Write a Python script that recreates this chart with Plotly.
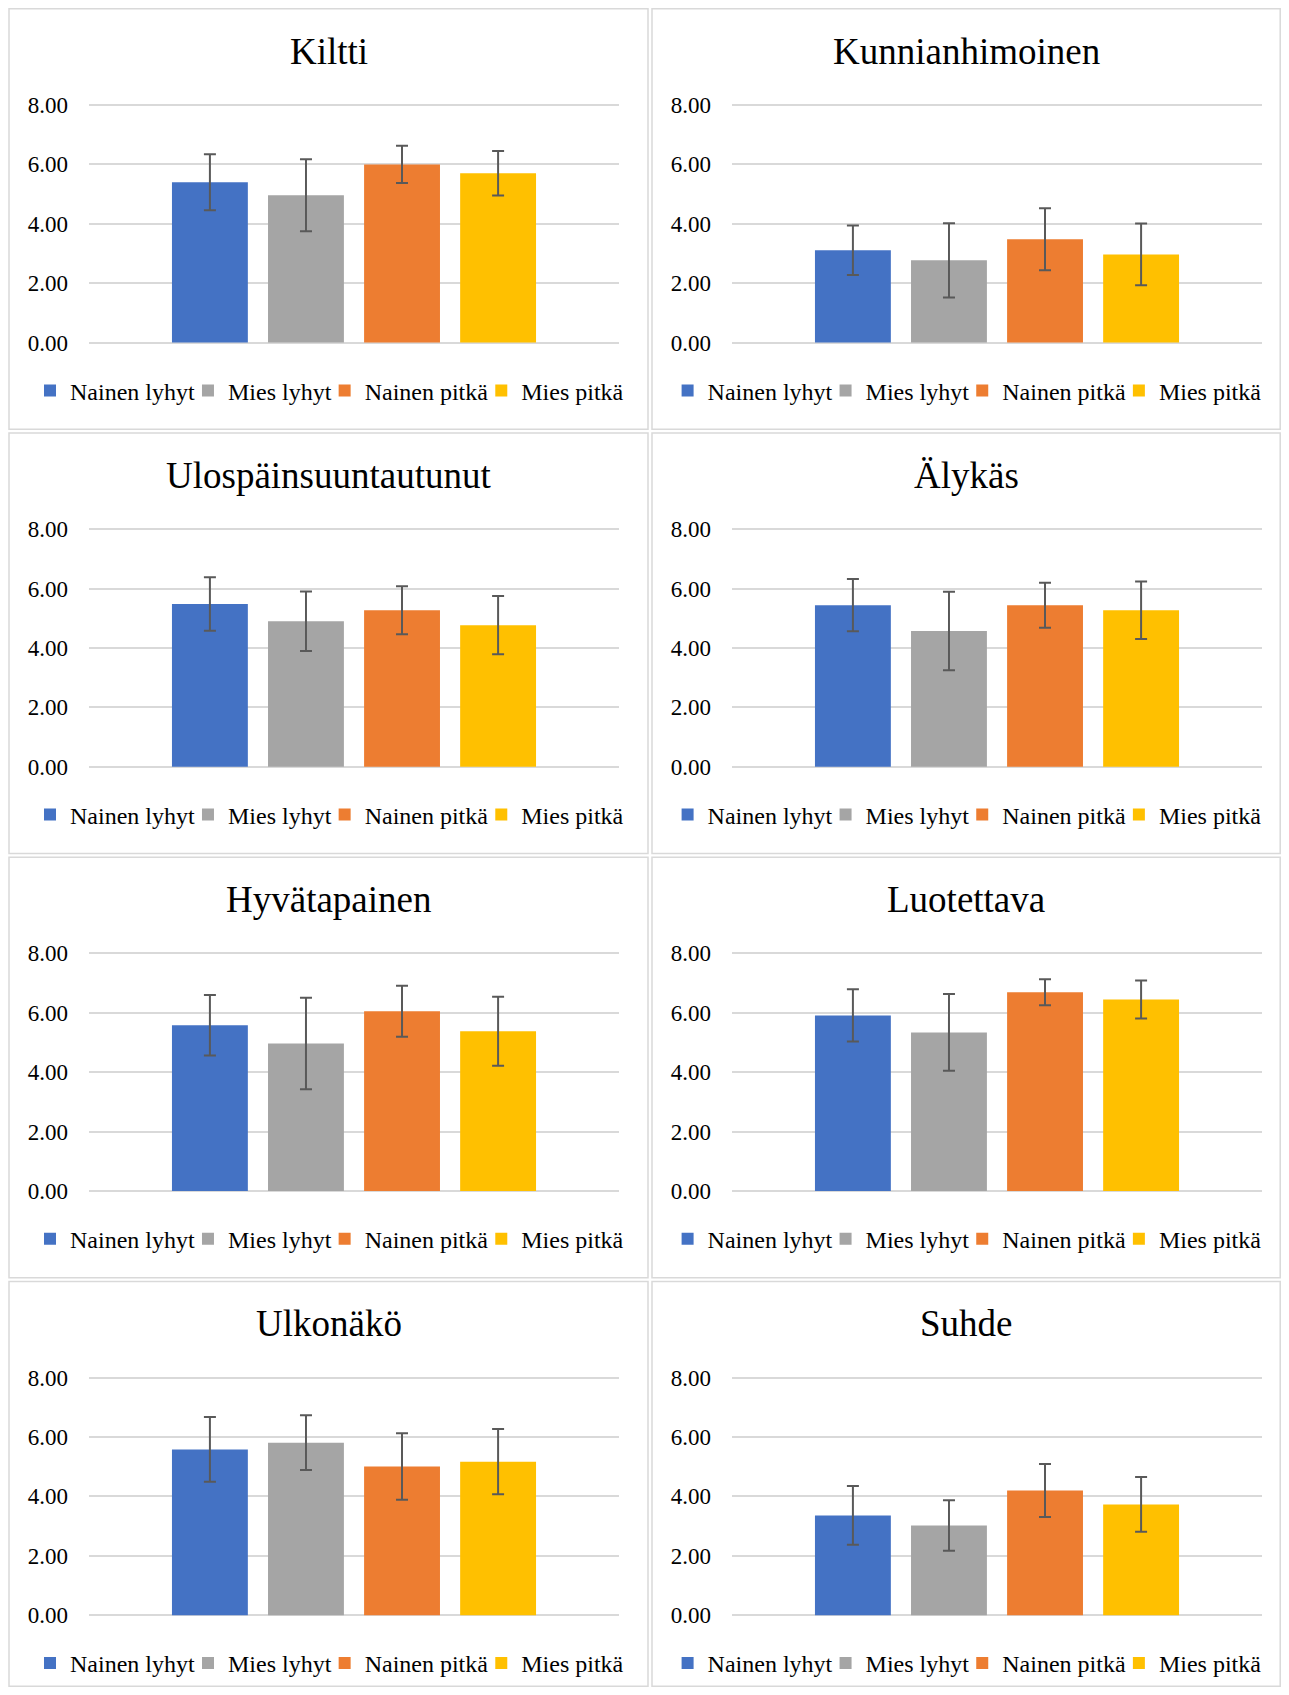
import plotly.graph_objects as go

# ---------------- data ----------------
traits = ["Kiltti", "Kunnianhimoinen", "Ulospäinsuuntautunut", "Älykäs",
          "Hyvätapainen", "Luotettava", "Ulkonäkö", "Suhde"]
series_names = ["Nainen lyhyt", "Mies lyhyt", "Nainen pitkä", "Mies pitkä"]

nainen_lyhyt = [5.40, 3.11, 5.48, 5.44, 5.58, 5.91, 5.58, 3.36]
mies_lyhyt   = [4.96, 2.77, 4.90, 4.57, 4.97, 5.34, 5.81, 3.02]
nainen_pitka = [6.00, 3.48, 5.27, 5.44, 6.05, 6.69, 5.01, 4.20]
mies_pitka   = [5.70, 2.97, 4.77, 5.27, 5.38, 6.45, 5.17, 3.73]

err_nainen_lyhyt = [0.94, 0.83, 0.90, 0.88, 1.02, 0.88, 1.09, 0.99]
err_mies_lyhyt   = [1.21, 1.25, 1.00, 1.32, 1.54, 1.29, 0.92, 0.85]
err_nainen_pitka = [0.63, 1.04, 0.81, 0.76, 0.86, 0.44, 1.12, 0.89]
err_mies_pitka   = [0.75, 1.04, 0.98, 0.97, 1.16, 0.64, 1.10, 0.92]

y_tick_vals = [0, 2, 4, 6, 8]
y_tick_text = ["0.00", "2.00", "4.00", "6.00", "8.00"]

series_values = [nainen_lyhyt, mies_lyhyt, nainen_pitka, mies_pitka]
series_errors = [err_nainen_lyhyt, err_mies_lyhyt, err_nainen_pitka, err_mies_pitka]
series_colors = ["#4472C4", "#A5A5A5", "#ED7D31", "#FFC000"]

# ---------------- layout geometry (screen pixels) ----------------
PAGE_MARGIN = 8           # default body margin of the html page
W, H = 1289 - 2 * PAGE_MARGIN, 1695 - 2 * PAGE_MARGIN
FONT = "Liberation Serif, Times New Roman, serif"


def fx(px):
    return (px - PAGE_MARGIN) / W


def fy(py):
    return 1 - (py - PAGE_MARGIN) / H


fig = go.Figure()
layout = dict(
    width=W, height=H,
    margin=dict(l=0, r=0, t=0, b=0, autoexpand=False),
    paper_bgcolor="white", plot_bgcolor="white",
    barmode="group", bargap=0.275, bargroupgap=0.21,
    font=dict(family=FONT, color="#000000"),
    showlegend=True,
    shapes=[], annotations=[],
)

for i, trait in enumerate(traits):
    r, c = divmod(i, 2)
    k = "" if i == 0 else str(i + 1)
    panel_top = max(8.8 + 424.2 * r, PAGE_MARGIN + 0.8)
    panel_bottom = min(panel_top + 420.5, 1695 - PAGE_MARGIN - 0.8)
    panel_left = [9, 652][c]
    panel_right = [648, 1289 - PAGE_MARGIN - 0.8][c]
    plot_x0 = 89 + 643 * c
    plot_x1 = 619 + 643 * c
    grid8 = panel_top + 96.2
    grid0 = panel_top + 333.8
    pxu = (grid0 - grid8) / 8.0
    pad = 3.0

    layout["xaxis" + k] = dict(
        domain=[fx(plot_x0), fx(plot_x1)], anchor="y" + k,
        showticklabels=False, showgrid=False, zeroline=False, showline=False,
        ticks="", fixedrange=True, type="category", automargin=False,
    )
    layout["yaxis" + k] = dict(
        domain=[fy(grid0 + pad), fy(grid8 - pad)], anchor="x" + k,
        range=[-pad / pxu, 8 + pad / pxu],
        tickvals=y_tick_vals, ticktext=y_tick_text,
        showgrid=True, gridcolor="#D9D9D9", gridwidth=1.6,
        zeroline=False, showline=False, ticks="", ticklabelstandoff=20,
        tickfont=dict(family=FONT, size=23, color="#000000"),
        fixedrange=True, automargin=False,
    )
    # panel frame
    layout["shapes"].append(dict(
        type="rect", xref="paper", yref="paper",
        x0=fx(panel_left), x1=fx(panel_right),
        y0=fy(panel_bottom), y1=fy(panel_top),
        line=dict(color="#D9D9D9", width=1.5), fillcolor="rgba(0,0,0,0)",
        layer="below",
    ))
    # title
    layout["annotations"].append(dict(
        text=trait, xref="paper", yref="paper",
        x=fx((panel_left + panel_right) / 2), y=fy(panel_top + 42.5),
        xanchor="center", yanchor="middle", showarrow=False,
        font=dict(family=FONT, size=37, color="#000000"),
    ))
    # legend
    layout["legend" + k] = dict(
        orientation="h", xanchor="center", yanchor="middle",
        x=fx((panel_left + panel_right) / 2 + 7), y=fy(panel_top + 382),
        font=dict(family=FONT, size=24, color="#000000"),
        bgcolor="rgba(0,0,0,0)", itemwidth=30, tracegroupgap=0,
        indentation=-12,
    )

    for s in range(4):
        fig.add_trace(go.Bar(
            x=[trait], y=[series_values[s][i]], name=series_names[s],
            marker=dict(color=series_colors[s], line=dict(width=0)),
            error_y=dict(type="data", array=[series_errors[s][i]], visible=True,
                         color="#595959", thickness=2, width=6),
            xaxis="x" + k, yaxis="y" + k, legend="legend" + k,
            showlegend=True, hoverinfo="skip",
        ))

fig.update_layout(**layout)
fig.write_html("out.html")
